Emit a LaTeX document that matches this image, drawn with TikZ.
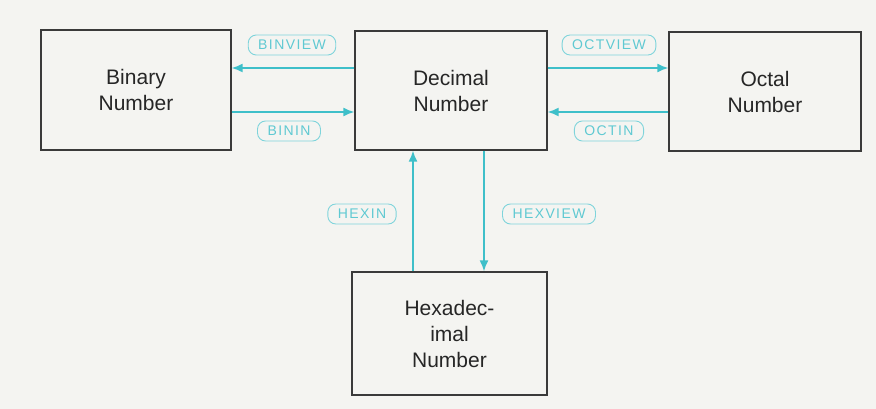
\documentclass[tikz,border=0pt]{standalone}
\usepackage{fontspec}
\setmainfont{Liberation Sans}
\newfontfamily\labfont[LetterSpace=10]{Liberation Sans}
\usetikzlibrary{arrows.meta}
\definecolor{bg}{HTML}{F4F4F1}
\definecolor{cyanline}{HTML}{3EBFC9}
\definecolor{cyantext}{HTML}{5FC9D2}
\definecolor{boxline}{HTML}{3A3A3A}
\tikzset{
  numbox/.style={draw=boxline, line width=1.4pt, rectangle, align=center,
    font=\fontsize{21}{26}\selectfont, text=black!85},
  lab/.style={draw=cyantext!80, line width=0.9pt, rounded corners=8pt,
    text=cyantext, font=\labfont\fontsize{14}{16}\selectfont,
    inner xsep=10pt, inner ysep=3pt, minimum height=20pt},
  arr/.style={draw=cyanline, line width=1.5pt,
    -{Latex[length=11pt,width=9pt]}}
}
\begin{document}
\begin{tikzpicture}[x=1pt,y=-1pt]
\fill[bg] (0,0) rectangle (876,409);
\useasboundingbox (0,0) rectangle (876,409);

\node[numbox, minimum width=190pt, minimum height=120pt] (bin) at (136,90) {Binary\\Number};
\node[numbox, minimum width=192pt, minimum height=119pt] (dec) at (451,90.5) {Decimal\\Number};
\node[numbox, minimum width=192pt, minimum height=119pt] (oct) at (765,91.5) {Octal\\Number};
\node[numbox, minimum width=195pt, minimum height=123pt] (hex) at (449.5,333.5) {Hexadec-\\imal\\Number};

\coordinate (ya) at (0,68);
\coordinate (yb) at (0,112);
\coordinate (xa) at (413,0);
\coordinate (xb) at (484,0);

\draw[arr] (dec.west |- ya) -- (bin.east |- ya);
\draw[arr] (bin.east |- yb) -- (dec.west |- yb);
\draw[arr] (dec.east |- ya) -- (oct.west |- ya);
\draw[arr] (oct.west |- yb) -- (dec.east |- yb);
\draw[arr] (xa |- hex.north) -- (xa |- dec.south);
\draw[arr] (xb |- dec.south) -- (xb |- hex.north);

\node[lab] (bv) at (292,45) {BINVIEW};
\node[lab] (bi) at (289,131) {BININ};
\node[lab] (ov) at (609,45) {OCTVIEW};
\node[lab] (oi) at (609,131) {OCTIN};
\node[lab] (hi) at (362,214) {HEXIN};
\node[lab] (hv) at (549,214) {HEXVIEW};
\end{tikzpicture}
\end{document}
